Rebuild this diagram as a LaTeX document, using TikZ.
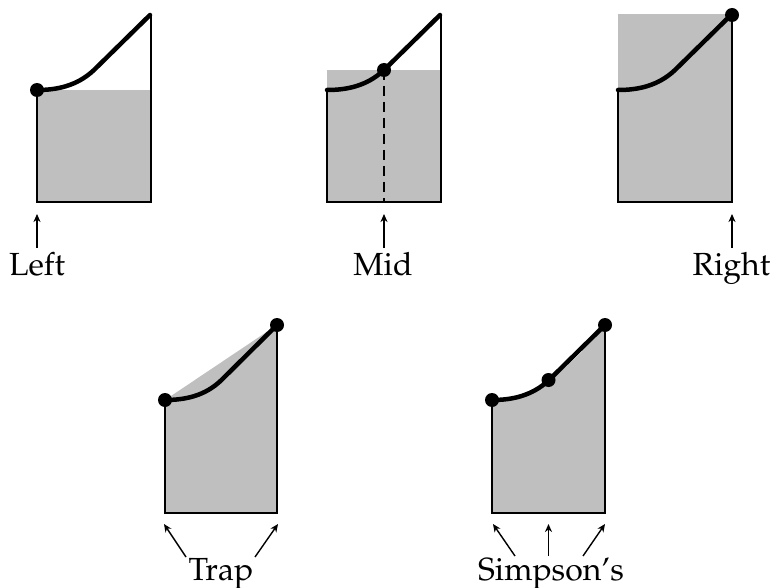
\documentclass[tikz,border=0pt]{standalone}
\usepackage[T1]{fontenc}
\usepackage{mathpazo}
\usetikzlibrary{arrows.meta}
\begin{document}
\begin{tikzpicture}[x=1pt,y=-1pt,
  shadefill/.style={fill=gray!50},
  boxline/.style={line width=2pt, line join=miter},
  fcurve/.style={line width=4.5pt, line cap=round, line join=round},
  dot/.style={fill=black},
  lbl/.style={anchor=base, inner sep=0pt, font=\fontsize{32}{38}\selectfont},
  arr/.style={line width=1.4pt, -{Stealth[length=8pt,width=7pt,inset=2.5pt]}},
  fpath/.style={insert path={(0,0) .. controls (20,0) and (40,-4) .. (57,-20) -- (113,-75)}}
]
\useasboundingbox (0,0) rectangle (773,588);

% ---------- Left ----------
\begin{scope}[shift={(37,90)}]
  \fill[shadefill] (0,0) rectangle (113.5,112);
  \draw[boxline] (0,0) -- (0,112) -- (113.5,112) -- (113.5,-75);
  \draw[fcurve, fpath];
  \fill[dot] (0,0) circle (7pt);
  \coordinate (lefttip) at (0,124);
\end{scope}
\node[lbl] (lblleft) at (37,275) {Left};
\coordinate (lefttail) at (37,248);
\draw[arr] (lefttail) -- (lefttip);

% ---------- Mid ----------
\begin{scope}[shift={(327,90)}]
  \fill[shadefill] (0,-20) rectangle (114,112);
  \draw[boxline] (0,0) -- (0,112) -- (114,112) -- (114,-75);
  \draw[line width=2pt, dash pattern=on 10pt off 6pt] (57,-20) -- (57,112);
  \draw[fcurve, fpath];
  \fill[dot] (57,-20) circle (7pt);
  \coordinate (midtip) at (57,124);
\end{scope}
\node[lbl] (lblmid) at (383,275) {Mid};
\coordinate (midtail) at (384,248);
\draw[arr] (midtail) -- (midtip);

% ---------- Right ----------
\begin{scope}[shift={(618,90)}]
  \fill[shadefill] (0,-76) rectangle (114,112);
  \draw[boxline] (0,0) -- (0,112) -- (114,112) -- (114,-75);
  \draw[fcurve, fpath];
  \fill[dot] (114,-75) circle (7pt);
  \coordinate (righttip) at (114,124);
\end{scope}
\node[lbl] (lblright) at (731.5,275) {Right};
\coordinate (righttail) at (732,248);
\draw[arr] (righttail) -- (righttip);

% ---------- Trap ----------
\begin{scope}[shift={(165,400)}]
  \fill[shadefill] (0,0) -- (112,-75) -- (112,113) -- (0,113) -- cycle;
  \draw[boxline] (0,0) -- (0,113) -- (112,113) -- (112,-75);
  \draw[fcurve] (0,0) .. controls (20,0) and (40,-4) .. (56.5,-20) -- (112,-75);
  \fill[dot] (0,0) circle (7pt);
  \fill[dot] (112,-75) circle (7pt);
  \coordinate (traptipa) at (-1,124);
  \coordinate (traptipb) at (113,124);
\end{scope}
\node[lbl] (lbltrap) at (221,580) {Trap};
\coordinate (traptaila) at (186,557);
\coordinate (traptailb) at (255,557);
\draw[arr] (traptaila) -- (traptipa);
\draw[arr] (traptailb) -- (traptipb);

% ---------- Simpson's ----------
\begin{scope}[shift={(492,400)}]
  \fill[shadefill] (0,0) .. controls (37.67,-1.67) and (75.33,-26.67) .. (113,-75) -- (113,113) -- (0,113) -- cycle;
  \draw[boxline] (0,0) -- (0,113) -- (113,113) -- (113,-75);
  \draw[fcurve, fpath];
  \fill[dot] (0,0) circle (7pt);
  \fill[dot] (56.5,-20) circle (7pt);
  \fill[dot] (113,-75) circle (7pt);
  \coordinate (simptipa) at (1,124);
  \coordinate (simptipb) at (56.5,124);
  \coordinate (simptipc) at (113,124);
\end{scope}
\node[lbl] (lblsimp) at (551,580) {Simpson's};
\coordinate (simptaila) at (515,556);
\coordinate (simptailb) at (548.5,556);
\coordinate (simptailc) at (583,556);
\draw[arr] (simptaila) -- (simptipa);
\draw[arr] (simptailb) -- (simptipb);
\draw[arr] (simptailc) -- (simptipc);
\end{tikzpicture}
\end{document}
